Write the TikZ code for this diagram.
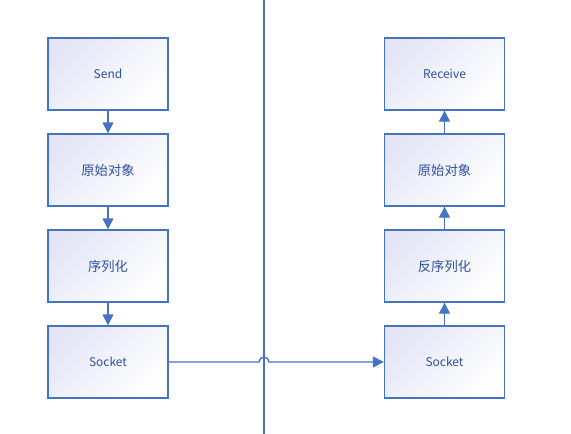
\documentclass[tikz,border=0pt]{standalone}
\usepackage{fontspec}
\setmainfont{Noto Sans CJK SC}
\newfontfamily\cjk{Noto Sans CJK SC}
\usetikzlibrary{arrows.meta}
\definecolor{bd}{HTML}{4472C4}
\definecolor{tx}{HTML}{2F52A0}
\definecolor{lav}{HTML}{E4E6F6}
\tikzset{
  box/.style={draw=bd, line width=1.4pt, minimum width=120pt, minimum height=72pt,
    top color=lav, bottom color=white, shading angle=45, text=tx,
    font=\fontsize{12pt}{14pt}\selectfont, inner sep=0pt},
  cjkbox/.style={box, font=\cjk\fontsize{13.3pt}{15pt}\selectfont},
  conn/.style={draw=bd, line width=1.4pt, -{Triangle[length=11pt,width=11pt]}},
  plain/.style={draw=bd, line width=1.4pt}
}
\begin{document}
\begin{tikzpicture}[x=1pt,y=1pt]
\useasboundingbox (0,0) rectangle (571,-434);
\fill[white] (0,0) rectangle (571,-434);
\coordinate (vt) at (264,0);
\coordinate (vb) at (264,-434);
\draw[plain] (vt) -- (vb);
\node[box] (s1) at (108,-74) {Send};
\node[cjkbox] (s2) at (108,-170) {原始对象};
\node[cjkbox] (s3) at (108,-266) {序列化};
\node[box] (s4) at (108,-362) {Socket};
\node[box] (r1) at (444.5,-74) {Receive};
\node[cjkbox] (r2) at (444.5,-170) {原始对象};
\node[cjkbox] (r3) at (444.5,-266) {反序列化};
\node[box] (r4) at (444.5,-362) {Socket};
\draw[conn] (s1) -- (s2);
\draw[conn] (s2) -- (s3);
\draw[conn] (s3) -- (s4);
\draw[conn] (r4) -- (r3);
\draw[conn] (r3) -- (r2);
\draw[conn] (r2) -- (r1);
\coordinate (hop) at (259,-362);
\draw[conn] (s4.east) -- (hop) arc (180:0:5) -- (r4.west);
\end{tikzpicture}
\end{document}
